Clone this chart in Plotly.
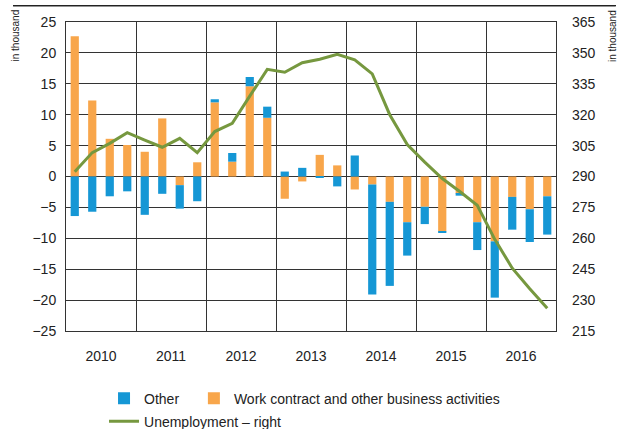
import plotly.graph_objects as go

quarters = [f"{y}Q{q}" for y in range(2010, 2017) for q in range(1, 5)]
years = ["2010", "2011", "2012", "2013", "2014", "2015", "2016"]

work_contract = [22.7, 12.3, 6.1, 5.1, 4.0, 9.4, -1.4, 2.3,
                 12.0, 2.4, 14.6, 9.5, -3.6, -0.8, 3.5, 1.8,
                 -2.1, -1.3, -4.1, -7.4, -4.9, -8.9, -2.8, -7.4,
                 -10.5, -3.3, -5.3, -3.2]
other = [-6.4, -5.7, -3.2, -2.4, -6.2, -2.8, -3.8, -4.0,
         0.5, 1.4, 1.5, 1.8, 0.8, 1.4, -0.2, -1.6,
         3.4, -17.8, -13.6, -5.4, -2.8, -0.2, -0.3, -4.5,
         -9.1, -5.3, -5.3, -6.2]
unemployment = [292.3, 301.6, 306.1, 311.3, 307.7, 304.2, 308.5, 301.6,
                311.8, 315.8, 329.0, 342.0, 340.6, 345.2, 346.9, 349.3,
                346.6, 339.8, 320.0, 305.5, 297.0, 289.0, 282.7, 276.0,
                259.5, 245.5, 235.5, 226.0]

x = list(range(len(quarters)))
year_centers = [4 * i + 1.5 for i in range(len(years))]
year_bounds = [4 * i - 0.5 for i in range(len(years) + 1)]

BLUE = "#1597d5"
ORANGE = "#f8a64b"
GREEN = "#76983f"
FONT = "Liberation Sans, Arial, sans-serif"
GRID = "#333333"

fig = go.Figure()
fig.add_trace(go.Bar(x=x, y=work_contract, name="Work contract and other business activities",
                     marker=dict(color=ORANGE, line=dict(width=0)), width=0.47,
                     legend="legend2"))
fig.add_trace(go.Bar(x=x, y=other, name="Other",
                     marker=dict(color=BLUE, line=dict(width=0)), width=0.47,
                     legend="legend"))
fig.add_trace(go.Scatter(x=x, y=unemployment, name="Unemployment – right", mode="lines",
                         line=dict(color=GREEN, width=3), yaxis="y2", legend="legend3"))

leg = dict(orientation="h", xanchor="left", yanchor="middle",
           font=dict(size=14, color="#222"), bgcolor="rgba(0,0,0,0)")

fig.update_layout(
    width=622, height=429,
    margin=dict(l=66, r=66, t=22, b=98, autoexpand=False),
    barmode="relative",
    plot_bgcolor="white", paper_bgcolor="white",
    font=dict(family=FONT, size=14, color="#222"),
    showlegend=True,
    xaxis=dict(range=[-0.5, 27.5], tickmode="array", tickvals=year_centers, ticktext=years,
               showgrid=False, zeroline=False, ticks="", showline=True, linecolor=GRID,
               linewidth=1, mirror=True, ticklabelstandoff=12,
               minor=dict(tickmode="array", tickvals=year_bounds, showgrid=True,
                          gridcolor=GRID, gridwidth=1, ticks="")),
    yaxis=dict(range=[-25, 25], dtick=5, showgrid=True, gridcolor=GRID, gridwidth=1,
               zeroline=False, showline=True, linecolor=GRID, linewidth=1, mirror=True,
               ticks="", ticklabelstandoff=6),
    yaxis2=dict(range=[215, 365], tick0=215, dtick=15, overlaying="y", side="right",
                showgrid=False, zeroline=False, ticks="", ticklabelstandoff=15),
    legend=dict(leg, x=0.0776, y=-0.219),
    legend2=dict(leg, x=0.261, y=-0.219),
    legend3=dict(leg, x=0.0776, y=-0.2935),
    shapes=[dict(type="line", xref="paper", yref="paper", x0=-0.108, x1=1.122,
                 y0=1.0518, y1=1.0518, layer="above", line=dict(color="#222", width=1))],
    annotations=[
        dict(text=" ", xref="paper", yref="paper", x=(314.5 - 66) / 490,
             y=(331 - 6) / 309, xanchor="center", yanchor="middle",
             width=603, height=1, bgcolor="#222", borderpad=0, borderwidth=0,
             showarrow=False, font=dict(size=1)),
        dict(text="in thousand", xref="paper", yref="paper", x=(14.5 - 66) / 490,
             y=(331 - 36) / 309, xanchor="center", yanchor="middle",
             textangle=-90, showarrow=False, font=dict(size=10)),
        dict(text="in thousand", xref="paper", yref="paper", x=(612 - 66) / 490,
             y=(331 - 36) / 309, xanchor="center", yanchor="middle",
             textangle=-90, showarrow=False, font=dict(size=10)),
    ],
)

fig.write_html("out.html", config={"displayModeBar": False},
               post_script="document.body.style.margin='0';")
